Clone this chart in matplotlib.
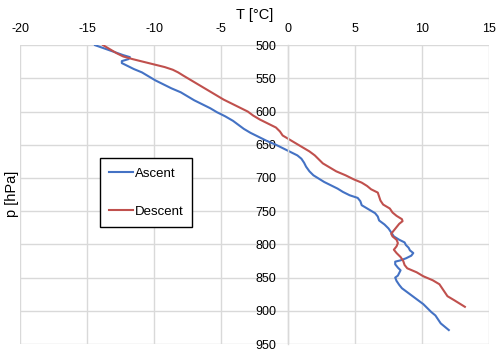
import matplotlib
matplotlib.use("Agg")
import matplotlib.pyplot as plt

plt.rcParams['font.family'] = ['Liberation Sans', 'DejaVu Sans']
plt.rcParams['axes.unicode_minus'] = False

# ascent profile: pressure [hPa] and temperature [°C]
asc_p = [500, 505, 510, 515, 518, 521, 524, 527, 531, 536, 541, 547, 553, 559, 565,
         571, 577, 583, 589, 595, 601, 607, 614, 620, 626, 632, 638, 644, 650, 655,
         660, 666, 671, 677, 683, 690, 696, 701, 706, 711, 716, 721, 726, 730, 735,
         741, 747, 753, 758, 764, 770, 776, 782, 788, 793, 797, 801, 805, 809, 813,
         817, 821, 824, 826, 830, 835, 839, 843, 847, 850, 855, 861, 866, 872, 878,
         884, 890, 896, 902, 907, 913, 919, 924, 929]
asc_t = [-14.4, -13.7, -13.0, -12.3, -11.8, -11.9, -12.4, -12.4, -12.0, -11.5, -10.9,
         -10.4, -9.9, -9.3, -8.7, -8.0, -7.5, -7.0, -6.4, -5.8, -5.3, -4.7, -4.1, -3.7,
         -3.3, -2.8, -2.2, -1.6, -0.9, -0.4, 0.1, 0.7, 1.0, 1.2, 1.35, 1.6, 1.9, 2.3,
         2.7, 3.2, 3.7, 4.1, 4.6, 5.2, 5.4, 5.5, 6.0, 6.5, 6.7, 6.8, 7.2, 7.5, 7.7, 7.9,
         8.3, 8.7, 8.8, 9.0, 9.1, 9.35, 9.2, 8.8, 8.4, 8.0, 8.0, 8.2, 8.4, 8.3, 8.2, 8.0,
         8.1, 8.3, 8.5, 8.9, 9.3, 9.7, 10.1, 10.4, 10.7, 11.0, 11.2, 11.4, 11.7, 12.0]

# descent profile
des_p = [500, 506, 512, 517, 521, 525, 529, 533, 537, 541, 546, 552, 558, 564, 570,
         576, 582, 588, 594, 600, 606, 612, 618, 624, 630, 636, 642, 648, 654, 660,
         666, 672, 678, 684, 690, 696, 702, 707, 712, 717, 722, 728, 734, 740, 746,
         752, 757, 762, 765, 769, 774, 779, 784, 788, 793, 798, 803, 808, 813, 819,
         825, 831, 836, 842, 848, 854, 860, 866, 872, 878, 884, 889, 894]
des_t = [-13.8, -13.3, -12.8, -12.3, -11.6, -10.8, -10.0, -9.2, -8.6, -8.2, -7.8, -7.3,
         -6.8, -6.3, -5.8, -5.3, -4.8, -4.2, -3.6, -3.0, -2.6, -2.1, -1.5, -0.9, -0.6,
         -0.4, 0.1, 0.6, 1.1, 1.6, 2.0, 2.3, 2.6, 3.1, 3.6, 4.3, 4.9, 5.5, 5.9, 6.2, 6.7,
         6.8, 6.9, 7.1, 7.6, 7.8, 8.1, 8.5, 8.55, 8.3, 8.1, 7.9, 7.7, 7.8, 8.1, 8.2, 8.1,
         7.9, 8.1, 8.4, 8.6, 8.7, 8.9, 9.6, 10.1, 10.8, 11.3, 11.5, 11.7, 11.9, 12.4,
         12.8, 13.2]

x_ticks = [-20, -15, -10, -5, 0, 5, 10, 15]
y_ticks = [500, 550, 600, 650, 700, 750, 800, 850, 900, 950]

fig = plt.figure(figsize=(5.0, 3.52), dpi=100)
ax = fig.add_axes([0.04, 0.0227, 0.938, 0.849])

ax.plot(asc_t, asc_p, color='#4472C4', lw=1.5, label='Ascent')
ax.plot(des_t, des_p, color='#C0504D', lw=1.5, label='Descent')

ax.set_xlim(-20, 15)
ax.set_ylim(950, 500)
ax.set_xticks(x_ticks)
ax.set_yticks(y_ticks)
ax.grid(True, color='#d9d9d9', lw=1.0)
ax.set_axisbelow(True)

for s in ['top', 'right', 'bottom']:
    ax.spines[s].set_visible(False)
ax.spines['left'].set_position(('data', 0))
ax.spines['left'].set_color('#d9d9d9')
ax.spines['left'].set_linewidth(1.0)

ax.xaxis.tick_top()
ax.xaxis.set_label_position('top')
ax.tick_params(axis='x', length=0, pad=7.5, labelsize=9, colors='black')
ax.tick_params(axis='y', length=0, pad=8.5, labelsize=9)

ax.set_xlabel('T [°C]', fontsize=10.5, labelpad=3)
fig.text(12 / 500, 1 - 194 / 352, 'p [hPa]', rotation=90, fontsize=10.5,
         ha='center', va='center')

leg = ax.legend(loc='upper left', bbox_to_anchor=(0.171, 0.622), fontsize=9.5,
                frameon=True, fancybox=False, edgecolor='black', framealpha=1,
                labelspacing=1.95, handlelength=1.75, handletextpad=0.15,
                borderpad=0.7, borderaxespad=0)
leg.get_frame().set_linewidth(1.0)

fig.savefig('out.png', dpi=100)
